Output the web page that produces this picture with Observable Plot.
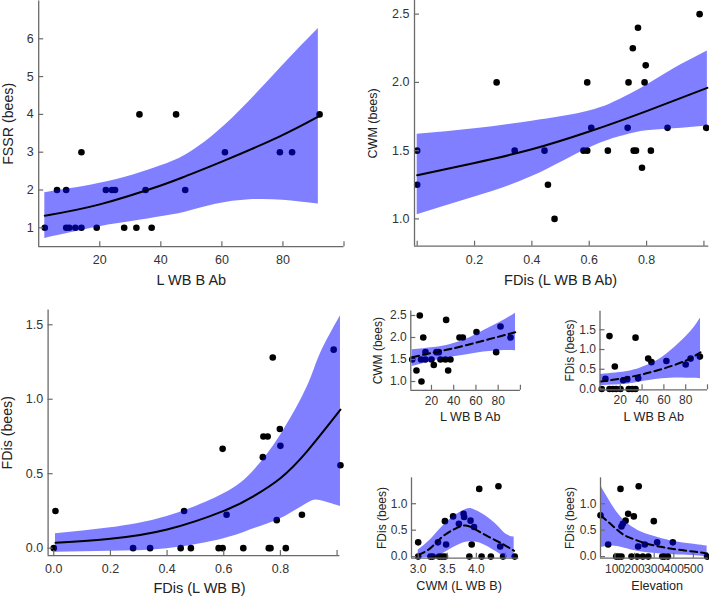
<!DOCTYPE html>
<html><head><meta charset="utf-8">
<script src="https://cdn.jsdelivr.net/npm/d3@7"></script>
<script src="https://cdn.jsdelivr.net/npm/@observablehq/plot@0.6"></script>
<style>
body{margin:0;background:#fff;}
#chart{position:relative;width:709px;height:597px;overflow:hidden;background:#fff;font-family:"Liberation Sans",Arial,sans-serif;}
#chart svg{position:absolute;}
</style></head><body><div id="chart"></div>
<script>
// ---------- Panel 1: FSSR (bees) vs L WB B Ab ----------
const p1X = [2,6,9,9,10,12,14,14,19,22,24,25,28,32,33,35,37,45,48,61,79,83,92];
const p1Y = [1,2,2,1,1,1,1,3,1,2,2,2,1,1,4,2,1,4,2,3,3,3,4];
const p1FitX = [2,20,40,48,60,79,92];
const p1FitY = [1.32,1.62,2.12,2.36,2.75,3.42,3.96];
const p1BandX = [2,10,20,31,40,48,58,69,80,91.6];
const p1Lo = [0.72,0.86,1.03,1.17,1.29,1.41,1.62,1.74,1.73,1.63];
const p1Hi = [1.93,2.03,2.18,2.4,2.64,2.92,3.5,4.35,5.3,6.27];

// ---------- Panel 2: CWM (bees) vs FDis (L WB B Ab) ----------
const p2X = [0,0,0.277,0.34,0.444,0.456,0.479,0.58,0.593,0.593,0.607,0.665,0.734,0.737,0.752,0.755,0.763,0.77,0.784,0.793,0.797,0.815,0.873,0.985,1.008];
const p2Y = [1.5,1.25,2.0,1.5,1.5,1.25,1.0,1.5,1.5,2.0,1.667,1.5,1.667,2.0,2.25,1.5,1.5,2.4,1.375,2.0,2.125,1.5,1.667,2.5,1.667];
const p2FitX = [0,0.2,0.4,0.6,0.8,1.012];
const p2FitY = [1.32,1.41,1.51,1.64,1.79,1.96];
const p2BandX = [0,0.2,0.4,0.6,0.72,0.8,0.895,1.012];
const p2Lo = [1.03,1.16,1.31,1.52,1.61,1.645,1.66,1.68];
const p2Hi = [1.62,1.66,1.716,1.79,1.89,1.98,2.1,2.23];

// ---------- Panel 3: FDis (bees) vs FDis (L WB B) ----------
const p3X = [0.006,0,0.28,0.34,0.448,0.46,0.484,0.582,0.596,0.596,0.61,0.669,0.738,0.74,0.755,0.759,0.765,0.773,0.787,0.798,0.8,0.819,0.876,0.988,1.012];
const p3Y = [0.25,0,0,0,0,0.25,0,0,0,0.667,0.224,0,0.611,0.75,0.75,0,0,1.28,0.188,0.8,0.687,0,0.224,1.333,0.557];
const p3FitX = [0.006,0.2,0.4,0.6,0.706,0.8,0.894,1.012];
const p3FitY = [0.036,0.063,0.125,0.25,0.35,0.47,0.65,0.93];
const p3BandX = [0.006,0.2,0.4,0.6,0.706,0.8,0.894,0.94,1.012];
const p3Lo = [-0.027,-0.02,-0.004,0.063,0.13,0.197,0.3,0.32,0.28];
const p3Hi = [0.096,0.137,0.213,0.365,0.52,0.757,1.08,1.3,1.56];

// ---------- Panel 4: CWM (bees) vs L WB B Ab ----------
const p4X = [2.7,6.5,9.5,11,12.6,10.6,14.6,14.5,20,22.1,24.5,26.6,28.1,32.6,33.2,35,37.1,45.2,48.2,60.5,78.2,82.1,91.1];
const p4Y = [1.5,1.25,2.5,1.0,2.0,1.5,1.667,1.5,1.5,1.375,1.667,1.667,1.5,1.5,2.4,1.25,1.5,2.0,2.0,2.125,1.667,2.25,2.0];
const p4FitX = [2.7,22.2,37.1,52.2,67.1,82.1,95.6];
const p4FitY = [1.55,1.66,1.74,1.83,1.93,2.03,2.12];
const p4BandX = [2.7,22.2,37.1,52.2,67.1,82.1,95.6];
const p4Lo = [1.34,1.47,1.55,1.61,1.67,1.70,1.70];
const p4Hi = [1.72,1.77,1.84,1.97,2.16,2.35,2.55];

// ---------- Panel 5: FDis (bees) vs L WB B Ab ----------
const p5X = [3,6.4,10.1,10.1,13.1,16.2,20.2,15,22.7,26.4,27.8,30.9,34,34,36.4,45.6,48.6,62.3,80,84.5,93];
const p5Y = [0,0.26,1.34,0,0,0,0,0.57,0.22,0.25,0,0,0,1.30,0.27,0.77,0.68,0.71,0.62,0.77,0.82];
const p5FitX = [1.9,20,40,60,80,93.6];
const p5FitY = [0.19,0.26,0.37,0.52,0.72,0.93];
const p5BandX = [1.9,27.8,43.1,58.4,73.7,86,93.6];
const p5Lo = [0.09,0.13,0.2,0.26,0.28,0.27,0.26];
const p5Hi = [0.37,0.45,0.58,0.8,1.15,1.5,1.8];

// ---------- Panel 6: FDis (bees) vs CWM (L WB B) ----------
const p6X = [3.0,3.0,3.21,3.25,3.34,3.36,3.41,3.46,3.46,3.48,3.6,3.70,3.78,3.79,3.90,3.96,3.92,3.88,4.05,4.09,4.25,4.38,4.41,4.46,4.66];
const p6Y = [0.27,0,0,0,0.27,0,0,0,0.67,0.23,0.76,0.62,0.81,0.75,0.68,0.56,0.23,0,1.28,0,0,1.33,0.19,0,0];
const p6FitX = [3.0,3.21,3.41,3.64,3.82,3.99,4.22,4.45,4.65];
const p6FitY = [0.03,0.16,0.37,0.53,0.59,0.51,0.37,0.24,0.11];
const p6BandX = [3.0,3.21,3.41,3.64,3.82,3.93,4.1,4.33,4.5,4.65];
const p6Lo = [-0.03,-0.01,0.05,0.19,0.27,0.28,0.24,0.1,-0.01,-0.03];
const p6Hi = [0.125,0.32,0.56,0.78,0.89,0.9,0.81,0.62,0.43,0.37];

// ---------- Panel 7: FDis (bees) vs Elevation ----------
const p7X = [26,65,128,133,140,154,167,196,221,218,252,298,315,395,570,106,119,133,184,213,242,270,341,352,370];
const p7Y = [0.78,0.23,1.28,0.57,0.62,0.68,0.81,0.76,1.33,0.19,0.23,0.67,0.27,0.27,0,0,0,0,0,0,0,0,0,0,0];
const p7FitX = [26,86,137,188,256,341,425,511,570];
const p7FitY = [0.78,0.59,0.43,0.34,0.25,0.18,0.13,0.09,0.06];
const p7BandX = [26,86,137,188,256,341,425,511,570];
const p7Lo = [0.17,0.2,0.17,0.12,0.08,0.05,0.03,0.015,-0.01];
const p7Hi = [1.35,0.97,0.72,0.56,0.43,0.34,0.27,0.23,0.2];

// ---------- helpers ----------
const zip = (xs, ys) => xs.map((x, i) => ({x, y: ys[i]}));
const band = (xs, lo, hi) => xs.map((x, i) => ({x, lo: lo[i], hi: hi[i]}));
const f1 = d3.format(".1f"), f0 = d3.format("d");
const AX = "#6a6a6a";

function panel(o) {
  const fw = o.width - o.ml - o.mr, fh = o.height - o.mt - o.mb;
  const svg = Plot.plot({
    width: o.width, height: o.height,
    marginLeft: o.ml, marginRight: o.mr, marginTop: o.mt, marginBottom: o.mb,
    x: {domain: o.xd, axis: null},
    y: {domain: o.yd, axis: null},
    style: {background: "transparent", overflow: "visible", fontFamily: "'Liberation Sans', Arial, sans-serif"},
    marks: [
      Plot.dot(zip(o.px, o.py), {x: "x", y: "y", r: 3.3, fill: "#000"}),
      Plot.areaY(band(o.bx, o.lo, o.hi), {x: "x", y1: "lo", y2: "hi", fill: "#0000ff", fillOpacity: 0.5, curve: "natural"}),
      Plot.line(zip(o.fx, o.fy), {x: "x", y: "y", stroke: "#000", strokeWidth: 2, curve: "natural", strokeDasharray: o.dash}),
      Plot.ruleX([o.xd[0]], {stroke: AX, strokeWidth: 1.3}),
      Plot.ruleY([o.yd[0]], {stroke: AX, strokeWidth: 1.3}),
      Plot.tickX(o.xt, {x: d => d, insetTop: fh - 5, stroke: AX, strokeWidth: 1.2}),
      Plot.tickY(o.yt, {y: d => d, insetRight: fw - 5, stroke: AX, strokeWidth: 1.2}),
      Plot.text(o.xl, {x: d => d, frameAnchor: "bottom", lineAnchor: "top", textAnchor: "middle", dy: o.xpad, text: o.xf, fontSize: o.tfs, fill: "#333"}),
      Plot.text(o.yl, {y: d => d, frameAnchor: "left", textAnchor: "end", lineAnchor: "middle", dx: -o.ypad, text: o.yf, fontSize: o.tfs, fill: "#333"}),
      Plot.text([o.xTitle], {frameAnchor: "bottom", lineAnchor: "middle", textAnchor: "middle", dy: o.xtDy, dx: o.xtDx, text: d => d, fontSize: o.lfs, fill: "#222"}),
      Plot.text([o.yTitle], {frameAnchor: "left", lineAnchor: "middle", textAnchor: "middle", rotate: -90, dx: o.ytDx, text: d => d, fontSize: o.yfs, fill: "#222"})
    ]
  });
  svg.style.left = o.left + "px";
  svg.style.top = o.top + "px";
  document.getElementById("chart").appendChild(svg);
}

const big = {tfs: 12.5, lfs: 14.5, yfs: 14.2, xpad: 8.5, ypad: 5};
const small = {tfs: 12, lfs: 12.6, yfs: 12, xpad: 6, ypad: 4, dash: "7,4"};

panel({...big, left: 0, top: 0, width: 346, height: 300, ml: 38.2, mr: 2.5, mt: 0.5, mb: 53.8,
  xd: [0, 100], yd: [0.5, 7.0],
  xt: [20, 40, 60, 80, 100], xl: [20, 40, 60, 80], xf: f0,
  yt: [1, 2, 3, 4, 5, 6], yl: [1, 2, 3, 4, 5, 6], yf: f0,
  xTitle: "L WB B Ab", yTitle: "FSSR (bees)", xtDy: 33.8, xtDx: 0, ytDx: -30.2,
  px: p1X, py: p1Y, fx: p1FitX, fy: p1FitY, bx: p1BandX, lo: p1Lo, hi: p1Hi});

panel({...big, yfs: 12.5, left: 340, top: 0, width: 369, height: 300, ml: 74, mr: 0.7, mt: 0, mb: 54.3,
  xd: [-0.0094, 1.017], yd: [0.8, 2.6],
  xt: [0, 0.2, 0.4, 0.6, 0.8, 1.0], xl: [0.2, 0.4, 0.6, 0.8], xf: f1,
  yt: [1.0, 1.5, 2.0, 2.5], yl: [1.0, 1.5, 2.0, 2.5], yf: f1,
  xTitle: "FDis (L WB B Ab)", yTitle: "CWM (bees)", xtDy: 34.3, xtDx: -1, ytDx: -41.7,
  px: p2X, py: p2Y, fx: p2FitX, fy: p2FitY, bx: p2BandX, lo: p2Lo, hi: p2Hi});

panel({...big, left: 0, top: 290, width: 350, height: 307, ml: 47.6, mr: 10.6, mt: 19.4, mb: 41.9,
  xd: [-0.02, 1.01], yd: [-0.05, 1.6],
  xt: [0, 0.2, 0.4, 0.6, 0.8, 1.0], xl: [0, 0.2, 0.4, 0.6, 0.8], xf: f1,
  yt: [0, 0.5, 1.0, 1.5], yl: [0, 0.5, 1.0, 1.5], yf: f1,
  xTitle: "FDis (L WB B)", yTitle: "FDis (bees)", xtDy: 33, xtDx: 5.5, ytDx: -41,
  px: p3X, py: p3Y, fx: p3FitX, fy: p3FitY, bx: p3BandX, lo: p3Lo, hi: p3Hi});

panel({...small, left: 350, top: 290, width: 180, height: 160, ml: 60.3, mr: 10.1, mt: 20.6, mb: 60.2,
  xd: [1.4, 100], yd: [0.8, 2.6],
  xt: [20, 40, 60, 80, 100], xl: [20, 40, 60, 80], xf: f0,
  yt: [1.0, 1.5, 2.0, 2.5], yl: [1.0, 1.5, 2.0, 2.5], yf: f1,
  xTitle: "L WB B Ab", yTitle: "CWM (bees)", xtDy: 26.6, xtDx: 4.6, ytDx: -33,
  px: p4X, py: p4Y, fx: p4FitX, fy: p4FitY, bx: p4BandX, lo: p4Lo, hi: p4Hi});

panel({...small, left: 530, top: 290, width: 179, height: 160, ml: 69.5, mr: 2, mt: 20.7, mb: 60.7,
  xd: [1.4, 100], yd: [-0.02, 1.97],
  xt: [20, 40, 60, 80, 100], xl: [20, 40, 60, 80], xf: f0,
  yt: [0, 0.5, 1.0, 1.5], yl: [0, 0.5, 1.0, 1.5], yf: f1,
  xTitle: "L WB B Ab", yTitle: "FDis (bees)", xtDy: 26.9, xtDx: 0, ytDx: -30.2,
  px: p5X, py: p5Y, fx: p5FitX, fy: p5FitY, bx: p5BandX, lo: p5Lo, hi: p5Hi});

panel({...small, left: 350, top: 450, width: 180, height: 147, ml: 61, mr: 11.7, mt: 27.3, mb: 39.3,
  xd: [2.885, 4.73], yd: [-0.03, 1.49],
  xt: [3.0, 3.5, 4.0, 4.5], xl: [3.0, 3.5, 4.0], xf: f1,
  yt: [0, 0.5, 1.0], yl: [0, 0.5, 1.0], yf: f1,
  xTitle: "CWM (L WB B)", yTitle: "FDis (bees)", xtDy: 27.5, xtDx: -6, ytDx: -29.3,
  px: p6X, py: p6Y, fx: p6FitX, fy: p6FitY, bx: p6BandX, lo: p6Lo, hi: p6Hi});

panel({...small, left: 530, top: 450, width: 179, height: 147, ml: 70, mr: 1, mt: 27.3, mb: 39.3,
  xd: [26, 577], yd: [-0.03, 1.49],
  xt: [100, 200, 300, 400, 500], xl: [100, 200, 300, 400, 500], xf: f0,
  yt: [0, 0.5, 1.0], yl: [0, 0.5, 1.0], yf: f1,
  xTitle: "Elevation", yTitle: "FDis (bees)", xtDy: 27.5, xtDx: 2.7, ytDx: -30.7,
  px: p7X, py: p7Y, fx: p7FitX, fy: p7FitY, bx: p7BandX, lo: p7Lo, hi: p7Hi});
</script></body></html>
